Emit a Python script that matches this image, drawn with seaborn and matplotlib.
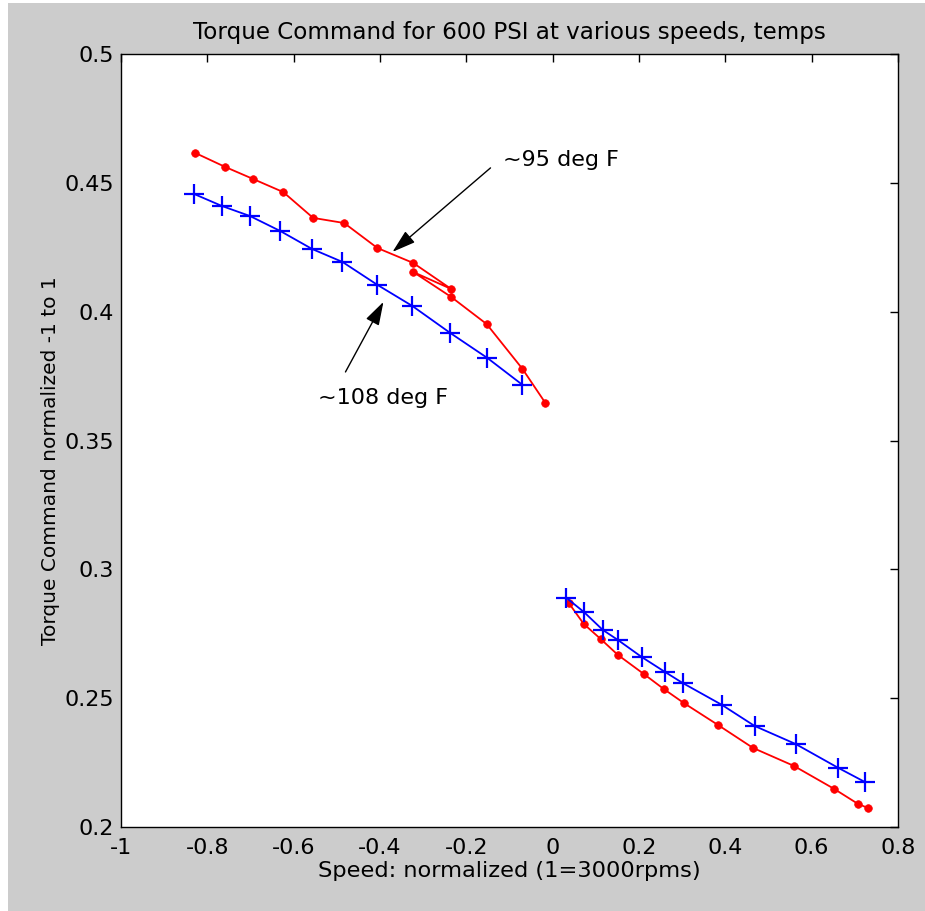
import matplotlib
matplotlib.use("Agg")
import matplotlib.pyplot as plt
import seaborn as sns
import pandas as pd
from matplotlib.patches import Rectangle

# ---- data ----
red_neg_x = [-0.828, -0.759, -0.694, -0.624, -0.555, -0.483, -0.406, -0.323, -0.235,
             -0.323, -0.235, -0.153, -0.070, -0.017]
red_neg_y = [0.4616, 0.4562, 0.4515, 0.4464, 0.4364, 0.4344, 0.4247, 0.4189, 0.4088,
             0.4154, 0.4057, 0.3952, 0.3778, 0.3646]
blue_neg_x = [-0.831, -0.766, -0.701, -0.631, -0.557, -0.487, -0.406, -0.325, -0.237,
              -0.151, -0.070]
blue_neg_y = [0.4457, 0.4410, 0.4371, 0.4313, 0.4243, 0.4193, 0.4104, 0.4022, 0.3917,
              0.3820, 0.3716]
red_pos_x = [0.037, 0.072, 0.111, 0.151, 0.211, 0.257, 0.304, 0.383, 0.464, 0.559,
             0.652, 0.707, 0.730]
red_pos_y = [0.2870, 0.2788, 0.2730, 0.2668, 0.2594, 0.2536, 0.2481, 0.2396, 0.2307,
             0.2237, 0.2148, 0.2090, 0.2074]
blue_pos_x = [0.032, 0.072, 0.116, 0.151, 0.206, 0.260, 0.301, 0.392, 0.468, 0.563,
              0.661, 0.723]
blue_pos_y = [0.2889, 0.2835, 0.2765, 0.2726, 0.2660, 0.2602, 0.2559, 0.2474, 0.2392,
              0.2322, 0.2230, 0.2175]

x_ticks = [-1, -0.8, -0.6, -0.4, -0.2, 0, 0.2, 0.4, 0.6, 0.8]
x_tick_labels = ["-1", "-0.8", "-0.6", "-0.4", "-0.2", "0", "0.2", "0.4", "0.6", "0.8"]
y_ticks = [0.2, 0.25, 0.3, 0.35, 0.4, 0.45, 0.5]
y_tick_labels = ["0.2", "0.25", "0.3", "0.35", "0.4", "0.45", "0.5"]

title = "Torque Command for 600 PSI at various speeds, temps"
xlabel = "Speed: normalized (1=3000rpms)"
ylabel = "Torque Command normalized -1 to 1"
note_95 = "~95 deg F"
note_108 = "~108 deg F"

# ---- style ----
sns.set_style("white")
plt.rcParams['font.family'] = ['DejaVu Sans']
plt.rcParams['text.color'] = 'black'
plt.rcParams['axes.labelcolor'] = 'black'

fig = plt.figure(figsize=(9.25, 9.11), dpi=100, facecolor="white")
fig.patches.append(Rectangle((8 / 925, 0), 1, 1 - 3 / 911, transform=fig.transFigure,
                             facecolor="#cccccc", edgecolor="none", zorder=-10))
ax = fig.add_axes([121 / 925, 1 - 827 / 911, 777 / 925, 773 / 911])
ax.set_facecolor("white")

def draw(xs, ys, color, marker, ms, mew):
    df = pd.DataFrame({"x": xs, "y": ys})
    sns.lineplot(data=df, x="x", y="y", sort=False, estimator=None, ax=ax,
                 color=color, lw=1.3, marker=marker, markersize=ms,
                 markeredgewidth=mew, markeredgecolor=color, markerfacecolor=color)

draw(red_neg_x, red_neg_y, "#ff0000", "o", 5.5, 0.5)
draw(red_pos_x, red_pos_y, "#ff0000", "o", 5.5, 0.5)
draw(blue_neg_x, blue_neg_y, "#0000ff", "+", 14, 1.6)
draw(blue_pos_x, blue_pos_y, "#0000ff", "+", 14, 1.6)

ax.set_xlim(-1, 0.8)
ax.set_ylim(0.2, 0.5)
ax.set_xticks(x_ticks)
ax.set_xticklabels(x_tick_labels)
ax.set_yticks(y_ticks)
ax.set_yticklabels(y_tick_labels)
ax.tick_params(direction="in", length=6, width=1, top=True, right=True,
               labelsize=16, colors="black")
ax.tick_params(axis="x", pad=8)
ax.tick_params(axis="y", pad=5)
for s in ax.spines.values():
    s.set_visible(True)
    s.set_color("black")
    s.set_linewidth(1.0)

ax.set_xlabel(xlabel, fontsize=16.2, labelpad=2, color="black")
ax.set_ylabel(ylabel, fontsize=14.5, color="black")
ax.yaxis.set_label_coords(-0.078, 0.474)
ax.set_title(title, fontsize=16.6, pad=11, color="black")

ax.text(-0.116, 0.4589, note_95, fontsize=16, va="center", ha="left", color="black")
ax.text(-0.543, 0.3665, note_108, fontsize=16, va="center", ha="left", color="black")
arrow_kw = dict(arrowstyle="-|>,head_length=0.9,head_width=0.28", color="black", lw=1,
                mutation_scale=16, shrinkA=0, shrinkB=0)
ax.annotate("", xy=(-0.371, 0.4232), xytext=(-0.144, 0.4558), arrowprops=arrow_kw)
ax.annotate("", xy=(-0.392, 0.4038), xytext=(-0.480, 0.3766), arrowprops=arrow_kw)

fig.savefig("out.png", dpi=100, facecolor=fig.get_facecolor())
